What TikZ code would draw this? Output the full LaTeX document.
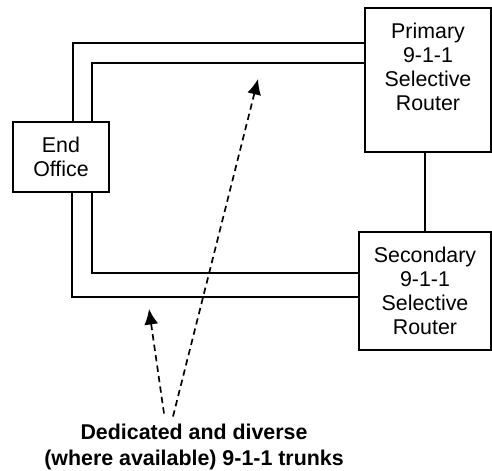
\documentclass[tikz,border=0pt]{standalone}
\usepackage{fontspec}
\setmainfont{Liberation Sans}
\usetikzlibrary{arrows.meta, positioning}

\begin{document}
\begin{tikzpicture}[
        x = 0.025cm, y = -0.025cm,
        line width = 1.3pt,
        >= {Latex[length = 11pt, width = 10pt]},
        font = \fontsize{15.2}{17}\selectfont,
        office/.style = {draw, line width = 1.3pt, align = center, inner sep = 0pt},
        trunk/.style = {line width = 1.3pt},
        pointer/.style = {->, line width = 1.2pt, dash pattern = on 4.5pt off 3pt}
    ]

        \useasboundingbox (0,0) rectangle (492,470);

        \node[office, minimum width = 2.4cm, minimum height = 1.75cm] (eo) at (61,157) {End\\Office};
        \node[office, minimum width = 3.15cm, minimum height = 3.6cm] (pri) at (428,80) {};
        \node[align = center, anchor = north] (pri_txt) at ([yshift = -0.27cm] pri.north) {Primary\\9-1-1\\Selective\\Router};
        \node[office, minimum width = 3.3cm, minimum height = 2.95cm] (sec) at (425,291)
            {Secondary\\9-1-1\\Selective\\Router};

        \node[align = center, font = \fontsize{15.2}{18.4}\selectfont\bfseries] (lbl) at (194,447)
            {Dedicated and diverse\\(where available) 9-1-1 trunks};

        % trunks
        \draw[trunk] (eo.north -| 73,0) |- (pri.west |- 0,43);
        \draw[trunk] (eo.north -| 92,0) |- (pri.west |- 0,63);
        \draw[trunk] (eo.south -| 72,0) |- (sec.west |- 0,297);
        \draw[trunk] (eo.south -| 92,0) |- (sec.west |- 0,273);
        \draw[trunk] (pri.south -| 425,0) -- (sec.north -| 425,0);

        \coordinate (tip_a) at (258,79);
        \coordinate (tip_b) at (149,309);
        \draw[pointer] (lbl.north -| 173,0) ++(0,-2) -- (tip_a);
        \draw[pointer] (lbl.north -| 164,0) ++(0,-5) -- (tip_b);

\end{tikzpicture}
\end{document}
